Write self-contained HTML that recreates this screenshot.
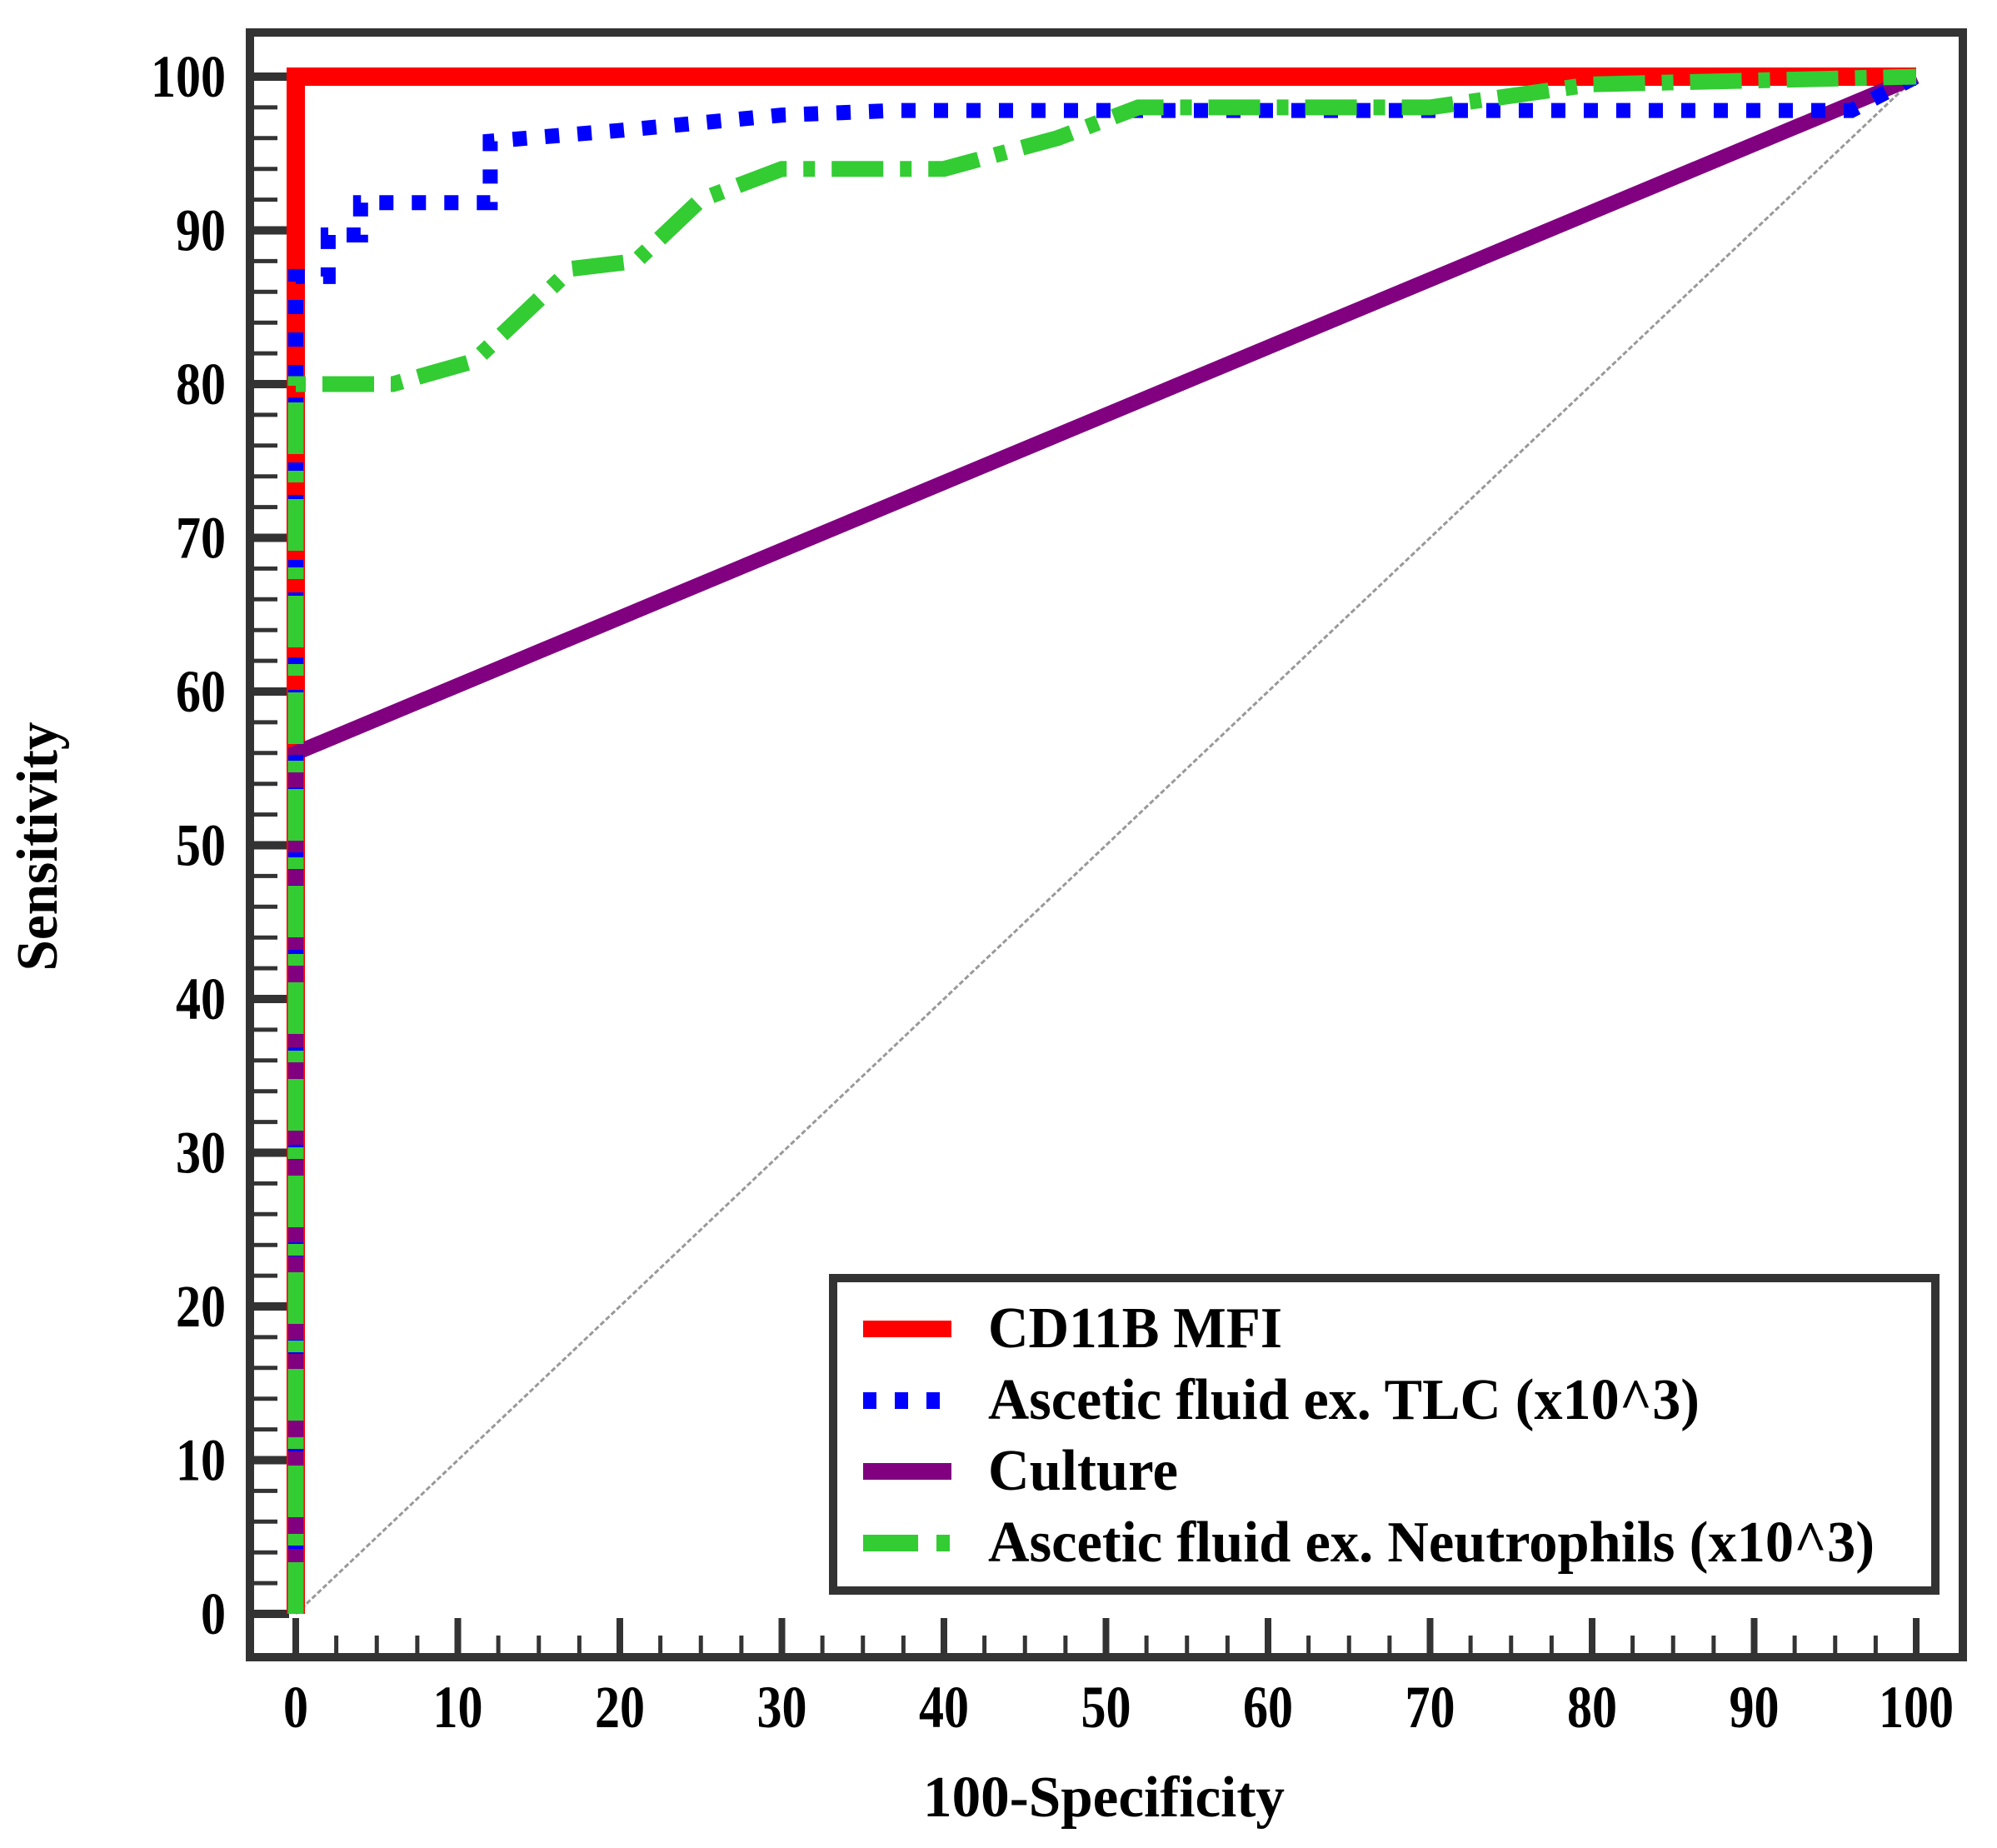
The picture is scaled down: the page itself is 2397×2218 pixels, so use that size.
<!DOCTYPE html>
<html><head><meta charset="utf-8"><style>
html,body{margin:0;padding:0;background:#fff;}
svg{display:block;}
text{font-family:"Liberation Serif",serif;font-weight:bold;fill:#000;}
</style></head><body>
<svg id="chart" width="2397" height="2218" viewBox="0 0 2397 2218" xmlns="http://www.w3.org/2000/svg">
<rect x="0" y="0" width="2397" height="2218" fill="#fff"/>
<g id="ticks"></g>
<g id="series"></g>
<rect x="300" y="39" width="2056" height="1950" fill="none" stroke="#333" stroke-width="10"/>
<text x="1325" y="2180" font-size="70" text-anchor="middle" textLength="434" lengthAdjust="spacingAndGlyphs">100-Specificity</text>
<text transform="translate(68,1016) rotate(-90)" font-size="70" text-anchor="middle" textLength="299" lengthAdjust="spacingAndGlyphs">Sensitivity</text>
<g id="legend">
<rect x="1000" y="1534" width="1323" height="375" fill="#fff" stroke="#333" stroke-width="10"/>
</g>
</svg>
<script>
const xTicks = [0,10,20,30,40,50,60,70,80,90,100];
const yTicks = [0,10,20,30,40,50,60,70,80,90,100];
const seriesNames = ["CD11B MFI","Ascetic fluid ex. TLC (x10^3)","Culture","Ascetic fluid ex. Neutrophils (x10^3)"];
const cd11bX = [0,0,100];
const cd11bY = [0,100,100];
const tlcX = [0,0,2,2,4,4,12,12,20,25,30,37,96,100];
const tlcY = [0,87,87,89.7,89.7,91.8,91.8,95.8,96.5,97,97.5,97.8,97.8,100];
const cultureX = [0,0,100];
const cultureY = [0,56,100];
const neutX = [0,0,6,11,17,21,25,30,40,47,52,70,80,100];
const neutY = [0,80,80,81.5,87.5,88,92,94,94,96,98,98,99.5,100];
const refX = [0,100];
const refY = [0,100];

const NS = "http://www.w3.org/2000/svg";
function xs(v){ return 355 + v*19.45; }
function ys(v){ return 1937 - v*18.45; }
function mk(tag, attrs, parent){
  const e = document.createElementNS(NS, tag);
  for (const k in attrs) e.setAttribute(k, attrs[k]);
  parent.appendChild(e);
  return e;
}
const tg = document.getElementById('ticks');
yTicks.forEach((v,i)=>{
  const l = mk('line',{x1:305,x2:347,y1:ys(v),y2:ys(v),stroke:'#333','stroke-width':10},tg);
  
  
  const s = String(v);
  const t = mk('text',{x:271,y:ys(v)+24,'font-size':72,'text-anchor':'end',textLength:30*s.length,lengthAdjust:'spacingAndGlyphs'},tg);
  t.textContent = s;
  
  
  if (i < yTicks.length-1){
    for (let k=1;k<5;k++){
      const mv = v + (yTicks[i+1]-v)*k/5;
      const m = mk('line',{x1:305,x2:333,y1:ys(mv),y2:ys(mv),stroke:'#333','stroke-width':5},tg);
      
      
    }
  }
});
xTicks.forEach((v,i)=>{
  const l = mk('line',{x1:xs(v),x2:xs(v),y1:1984,y2:1942,stroke:'#333','stroke-width':8},tg);
  
  
  const s = String(v);
  const t = mk('text',{x:xs(v),y:2073,'font-size':72,'text-anchor':'middle',textLength:30*s.length,lengthAdjust:'spacingAndGlyphs'},tg);
  t.textContent = s;
  
  
  if (i < xTicks.length-1){
    for (let k=1;k<4;k++){
      const mv = v + (xTicks[i+1]-v)*k/4;
      const m = mk('line',{x1:xs(mv),x2:xs(mv),y1:1984,y2:1963,stroke:'#333','stroke-width':5},tg);
      
      
    }
  }
});
const sg = document.getElementById('series');
function pts(X,Y){ return X.map((x,i)=>xs(x)+','+ys(Y[i])).join(' '); }
const ref = mk('polyline',{points:pts(refX,refY),fill:'none',stroke:'#999','stroke-width':3,'stroke-dasharray':'6 3'},sg);


const styles = [
  {X:cd11bX,Y:cd11bY,color:'#ff0000',dash:'',w:22,name:'cd11b-mfi-curve'},
  {X:cultureX,Y:cultureY,color:'#800080',dash:'',w:18,name:'culture-curve'},
  {X:tlcX,Y:tlcY,color:'#0000ff',dash:'17 22',w:18,name:'tlc-curve'},
  {X:neutX,Y:neutY,color:'#33cc33',dash:'62 20 14 20',w:19,name:'neutrophils-curve'}
];
styles.forEach(s=>{
  const p = mk('polyline',{points:pts(s.X,s.Y),fill:'none',stroke:s.color,'stroke-width':s.w,'stroke-dasharray':s.dash,'stroke-linejoin':'miter'},sg);
  
  
});
const lg = document.getElementById('legend');
const legRows = [1595,1681,1766,1852];
const legColors = ['#ff0000','#0000ff','#800080','#33cc33'];
const legDash = ['','16 22','','66 22 16 22'];
const legLen = [353,854,228,1064];
seriesNames.forEach((n,i)=>{
  const l = mk('line',{x1:1036,x2:1142,y1:legRows[i],y2:legRows[i],stroke:legColors[i],'stroke-width':20,'stroke-dasharray':legDash[i]},lg);
  
  
  const t = mk('text',{x:1186,y:legRows[i]+22,'font-size':70,textLength:legLen[i],lengthAdjust:'spacingAndGlyphs'},lg);
  t.textContent = n;
  
  
});
</script>
</body></html>
